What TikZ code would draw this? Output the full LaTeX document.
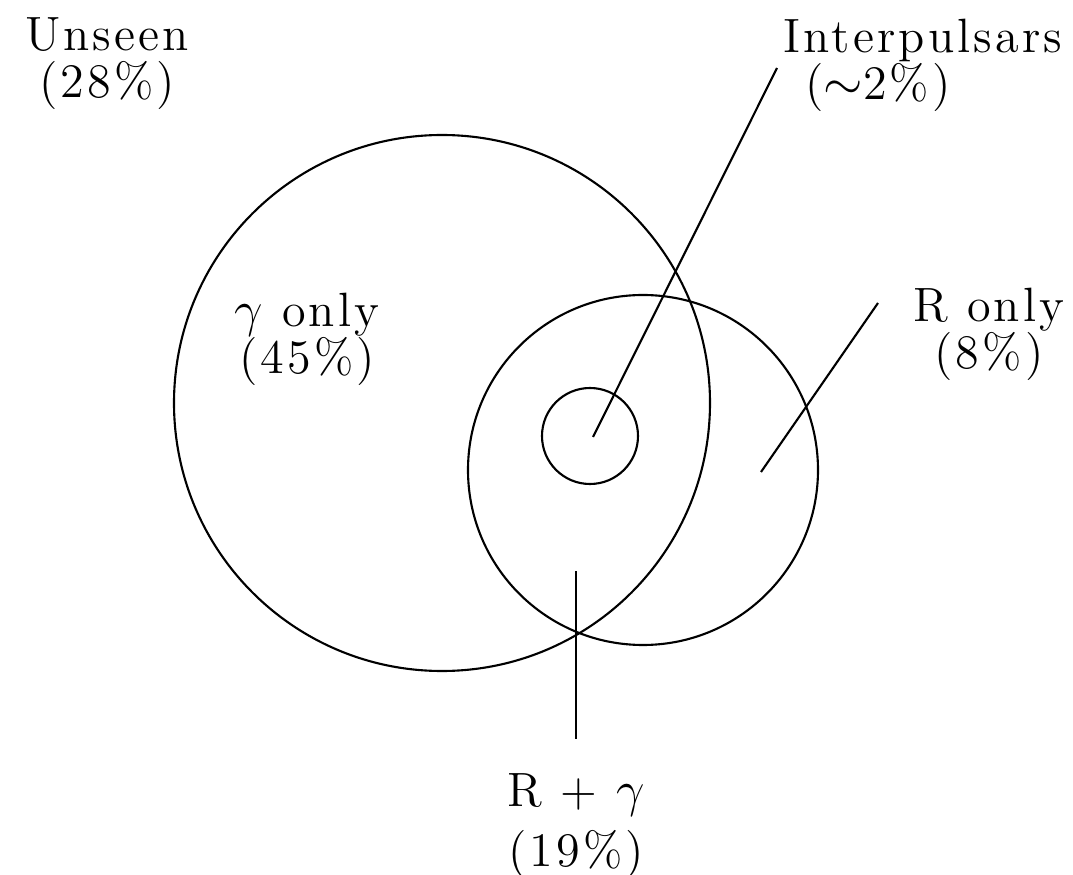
\documentclass[tikz,border=0pt]{standalone}
\usepackage{fontspec}
\setmainfont{Latin Modern Roman}[LetterSpace=6.5]
\usepackage{tikz}
\usetikzlibrary{positioning}

\begin{document}
\begin{tikzpicture}[line width=0.6pt,
  ring/.style={draw,circle,inner sep=0pt},
  lbl/.style={align=center,inner sep=0pt,anchor=north,font=\fontsize{13.7}{13.3}\selectfont}]
\useasboundingbox (0,0) rectangle (10.73,-8.75);
% the three populations
\node[ring,minimum size=5.36cm] (gammaring) at (4.42,-4.03) {};
\node[ring,minimum size=3.50cm] (radioring) at (6.43,-4.70) {};
\node[ring,minimum size=0.96cm] (interring) at (5.90,-4.36) {};
% labels
\node[lbl] (unseen) at (1.07,-0.17) {Unseen\\(28\%)};
\node[lbl] (interp) at (9.23,-0.18) {Interpulsars\\\hspace*{-0.9cm}($\sim$2\%)};
\node[lbl] (gonly) at (3.07,-2.92) {$\gamma$ only\\(45\%)};
\node[lbl] (ronly) at (9.89,-2.87) {R only\\(8\%)};
\node[lbl] (both) at (5.76,-7.73) {R + $\gamma$\\[3.7pt](19\%)};
% pointers
\coordinate (interend) at (5.93,-4.37);
\coordinate (ronlyend) at (7.61,-4.72);
\coordinate (bothend) at (5.76,-5.71);
\coordinate (interstart) at (7.77,-0.68);
\coordinate (ronlystart) at (8.78,-3.03);
\coordinate (bothstart) at (5.76,-7.39);
\draw (interstart) -- (interend);
\draw (ronlystart) -- (ronlyend);
\draw (bothstart) -- (bothend);
\end{tikzpicture}
\end{document}
